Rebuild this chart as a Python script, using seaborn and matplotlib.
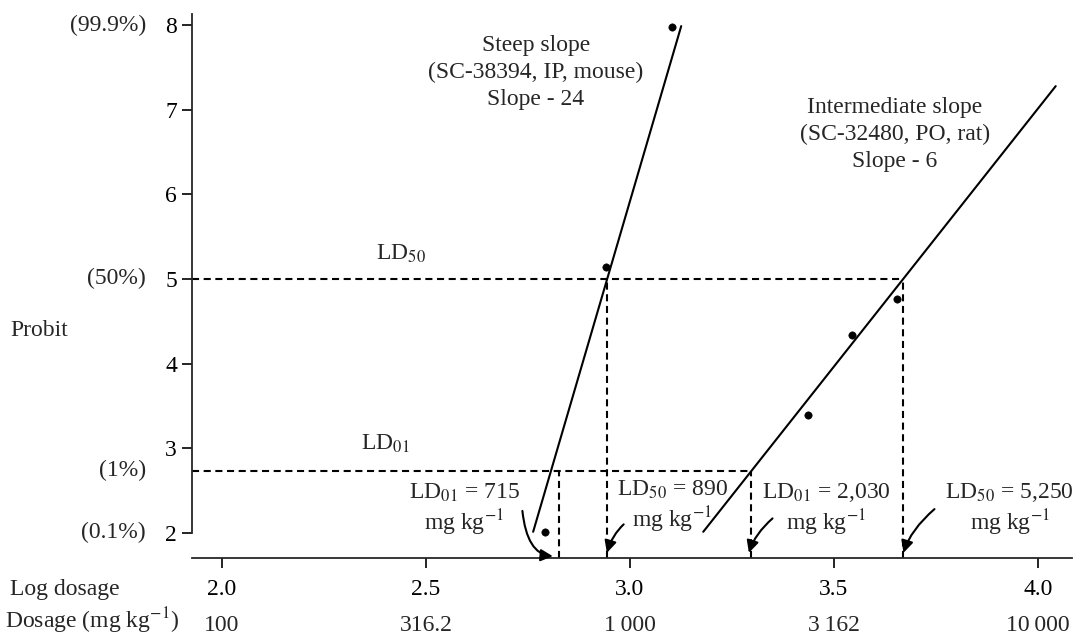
import matplotlib
matplotlib.use("Agg")
import matplotlib.pyplot as plt
import seaborn as sns
import pandas as pd

# observed points (log dosage, probit)
steep_x = [2.793, 2.942, 3.104]
steep_y = [2.01, 5.14, 7.98]
inter_x = [3.438, 3.544, 3.656]
inter_y = [3.39, 4.34, 4.76]

# fitted line end points
steep_fit_x = [2.763, 3.126]
steep_fit_y = [2.01, 7.99]
inter_fit_x = [3.180, 4.044]
inter_fit_y = [2.01, 7.28]

# LD levels and where they cross the fitted lines
ld50_y = 5.0
ld01_y = 2.73
steep_ld01_x = 2.827
steep_ld50_x = 2.945
inter_ld01_x = 3.298
inter_ld50_x = 3.669

log_ticks = [2.0, 2.5, 3.0, 3.5, 4.0]
log_labels = ["2.0", "2.5", "3.0", "3.5", "4.0"]
dose_labels = ["100", "316.2", "1\u2009000", "3\u2009162", "10\u2009000"]
probit_ticks = [2, 3, 4, 5, 6, 7, 8]
pct_pos = [8, 5, 2.73, 2]
pct_labels = ["(99.9%)", "(50%)", "(1%)", "(0.1%)"]

sns.set_theme(style="ticks")
plt.rcParams["font.family"] = ["Liberation Serif", "DejaVu Serif"]
plt.rcParams["mathtext.fontset"] = "stix"

FS = 17

fig = plt.figure(figsize=(10.77, 6.36), dpi=100)
ax = fig.add_axes([0.178, 0.1226, 0.817, 0.855])

xmin, xmax = 1.926, 4.083
ymin, ymax = 1.70, 8.13

fit_df = pd.DataFrame({
    "x": steep_fit_x + inter_fit_x,
    "y": steep_fit_y + inter_fit_y,
    "line": ["steep"] * 2 + ["inter"] * 2,
})
pts_df = pd.DataFrame({"x": steep_x + inter_x, "y": steep_y + inter_y})

sns.lineplot(data=fit_df, x="x", y="y", units="line", estimator=None,
             color="black", lw=1.5, ax=ax, legend=False)
sns.scatterplot(data=pts_df, x="x", y="y", color="black", s=28,
                edgecolor="black", ax=ax, legend=False, zorder=5)

dash = dict(color="black", lw=1.5, ls=(0, (3.4, 2.2)))
ax.plot([xmin, inter_ld50_x], [ld50_y, ld50_y], **dash)
ax.plot([xmin, inter_ld01_x], [ld01_y, ld01_y], **dash)
for vx, vy in [(steep_ld01_x, ld01_y), (steep_ld50_x, ld50_y),
               (inter_ld01_x, ld01_y), (inter_ld50_x, ld50_y)]:
    ax.plot([vx, vx], [ymin, vy], **dash)

ax.set_xlim(xmin, xmax)
ax.set_ylim(ymin, ymax)
ax.spines["left"].set_bounds(2, ymax)
sns.despine(ax=ax)
ax.spines["left"].set_linewidth(1.3)
ax.spines["bottom"].set_linewidth(1.3)

ax.set_xticks(log_ticks)
ax.set_xticklabels(log_labels)
ax.set_yticks(probit_ticks)
ax.tick_params(axis="both", colors="black", labelsize=FS, width=1.2,
               length=7)
ax.tick_params(axis="x", pad=8)
ax.set_xlabel("")
ax.set_ylabel("")

xt = ax.get_xaxis_transform()
for xv, lab in zip(log_ticks, dose_labels):
    ax.text(xv, -0.125, lab, transform=xt, ha="center", va="center",
            fontsize=FS)
fig.text(10 / 1077, 1 - 589 / 636, "Log dosage", ha="left", va="center",
         fontsize=FS)
fig.text(5 / 1077, 1 - 621 / 636, "Dosage (mg kg$^{-1}$)", ha="left",
         va="center", fontsize=FS)

yt = ax.get_yaxis_transform()
for yv, lab in zip(pct_pos, pct_labels):
    ax.text(-0.052, yv, lab, transform=yt, ha="right", va="center",
            fontsize=FS)
fig.text(10 / 1077, 1 - 330 / 636, "Probit", ha="left", va="center",
         fontsize=FS)

ax.text(2.44, 5.30, "LD$_{50}$", fontsize=FS, ha="center", va="center")
ax.text(2.40, 3.05, "LD$_{01}$", fontsize=FS, ha="center", va="center")
ax.text(2.77, 7.44, "Steep slope\n(SC-38394, IP, mouse)\nSlope - 24",
        fontsize=FS, ha="center", va="center", linespacing=1.38)
ax.text(3.649, 6.71, "Intermediate slope\n(SC-32480, PO, rat)\nSlope - 6",
        fontsize=FS, ha="center", va="center", linespacing=1.38)

# text, text centre, arrow start, arrow tip, curve angles
notes = [
    ("LD$_{01}$ = 715\nmg kg$^{-1}$", (2.594, 2.27), (2.736, 2.29), (2.818, 1.72), 95, 0),
    ("LD$_{50}$ = 890\nmg kg$^{-1}$", (3.104, 2.31), (2.99, 2.12), (2.942, 1.73), 40, 75),
    ("LD$_{01}$ = 2,030\nmg kg$^{-1}$", (3.482, 2.27), (3.355, 2.19), (3.290, 1.73), 40, 75),
    ("LD$_{50}$ = 5,250\nmg kg$^{-1}$", (3.931, 2.27), (3.752, 2.30), (3.669, 1.73), 40, 75),
]
for text, tpos, start, end, a, b in notes:
    ax.text(tpos[0], tpos[1], text, fontsize=FS, ha="center", va="center",
            linespacing=1.15)
    ax.annotate("", xy=end, xytext=start,
                arrowprops=dict(arrowstyle="-|>", color="black", lw=1.5,
                                mutation_scale=18,
                                connectionstyle=f"angle3,angleA={a},angleB={b}"))

fig.savefig("out.png", dpi=100)
